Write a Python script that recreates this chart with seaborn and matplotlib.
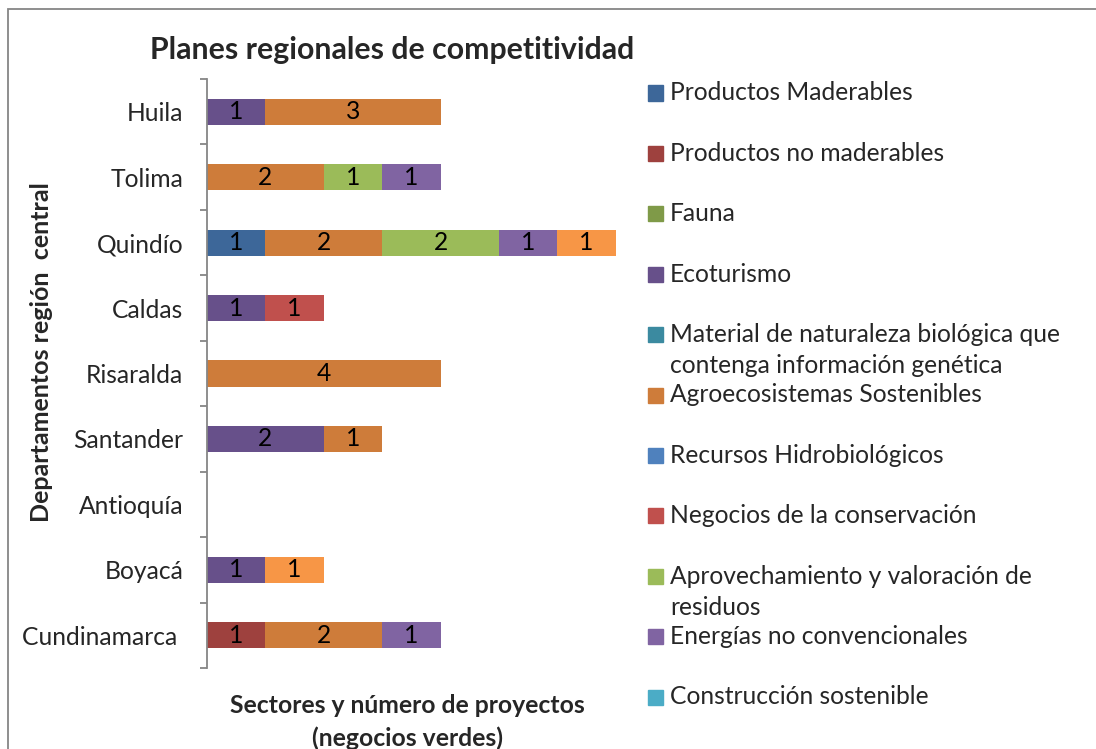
import matplotlib
matplotlib.use("Agg")
import matplotlib.pyplot as plt
from matplotlib.patches import Rectangle
import seaborn as sns
import numpy as np

sns.set_theme(style="white")
plt.rcParams['font.family'] = ['Lato', 'DejaVu Sans']

# Datos
departamentos = ["Huila", "Tolima", "Quindío", "Caldas", "Risaralda",
                 "Santander", "Antioquía", "Boyacá", "Cundinamarca "]
sectores = ["Productos Maderables", "Productos no maderables", "Fauna", "Ecoturismo",
            "Material de naturaleza biológica que\ncontenga información genética",
            "Agroecosistemas Sostenibles", "Recursos Hidrobiológicos",
            "Negocios de la conservación",
            "Aprovechamiento y valoración de\nresiduos",
            "Energías no convencionales", "Construcción sostenible", "Otros"]
# valores por sector (orden de departamentos)
productos_maderables    = [0, 0, 1, 0, 0, 0, 0, 0, 0]
productos_no_maderables = [0, 0, 0, 0, 0, 0, 0, 0, 1]
fauna                   = [0, 0, 0, 0, 0, 0, 0, 0, 0]
ecoturismo              = [1, 0, 0, 1, 0, 2, 0, 1, 0]
material_genetico       = [0, 0, 0, 0, 0, 0, 0, 0, 0]
agroecosistemas         = [3, 2, 2, 0, 4, 1, 0, 0, 2]
recursos_hidrobiologicos = [0, 0, 0, 0, 0, 0, 0, 0, 0]
negocios_conservacion   = [0, 0, 0, 1, 0, 0, 0, 0, 0]
aprovechamiento_residuos = [0, 1, 2, 0, 0, 0, 0, 0, 0]
energias_no_conv        = [0, 1, 1, 0, 0, 0, 0, 0, 1]
construccion_sostenible = [0, 0, 0, 0, 0, 0, 0, 0, 0]
otros                   = [0, 0, 1, 0, 0, 0, 0, 1, 0]

valores = [productos_maderables, productos_no_maderables, fauna, ecoturismo,
           material_genetico, agroecosistemas, recursos_hidrobiologicos,
           negocios_conservacion, aprovechamiento_residuos, energias_no_conv,
           construccion_sostenible, otros]
colores = ["#3D6799", "#9E413E", "#7F9A48", "#67508A", "#3B8AA0", "#CE7C3A",
           "#4F81BD", "#C0504D", "#9BBB59", "#8064A2", "#4BACC6", "#F79646"]

W, H = 1096, 749
fs = 17.7
fig = plt.figure(figsize=(W / 100, H / 100), dpi=100)
ax = fig.add_axes([207 / W, 1 - 668 / H, 433 / W, (668 - 79) / H])

acum = np.zeros(len(departamentos))
for vals, col in zip(valores, colores):
    vals = np.array(vals, dtype=float)
    sns.barplot(x=vals, y=departamentos, left=acum, color=col, width=0.4,
                saturation=1, ax=ax, linewidth=0)
    acum += vals

for cont, vals in zip(ax.containers, valores):
    ax.bar_label(cont, labels=[str(v) if v else "" for v in vals],
                 label_type="center", fontsize=fs, color="black")

ax.set_xlim(0, 433 / 58.4)
ax.set_ylim(8.5, -0.5)
ax.set_xticks([])
ax.set_xlabel("")
ax.set_ylabel("")
for s in ["top", "right", "bottom"]:
    ax.spines[s].set_visible(False)
ax.spines["left"].set_color("#868686")
ax.spines["left"].set_linewidth(1.3)
ax.set_yticks(range(len(departamentos)))
ax.set_yticklabels(departamentos, fontsize=fs)
ax.set_yticks(np.arange(-0.5, len(departamentos)), minor=True)
ax.tick_params(axis="y", which="major", length=0, pad=17)
ax.tick_params(axis="y", which="minor", length=5, width=1.3, color="#868686", left=True)

fig.text(392 / W, 1 - 50 / H, "Planes regionales de competitividad",
         ha="center", va="center", fontsize=21.8, fontweight="bold")
fig.text(42 / W, 1 - 352 / H, "Departamentos región  central", rotation=90,
         ha="center", va="center", fontsize=18, fontweight="bold")
fig.text(407 / W, 1 - 722 / H, "Sectores y número de proyectos\n(negocios verdes)",
         ha="center", va="center", fontsize=17.8, fontweight="bold", linespacing=1.45)

# leyenda manual (la entrada 12 queda fuera del lienzo en el original)
for i, (lab, col) in enumerate(zip(sectores[:11], colores[:11])):
    yc = 93 + 60.4 * i
    fig.patches.append(Rectangle((648 / W, 1 - (yc + 7.5) / H), 15 / W, 15 / H,
                                 transform=fig.transFigure, color=col))
    for j, linea in enumerate(lab.split("\n")):
        fig.text(670 / W, 1 - (yc + 31 * j) / H, linea, ha="left", va="center",
                 fontsize=fs)

fig.patches.append(Rectangle((8 / W, -0.1), 1.2, 1.1 - 9 / H, transform=fig.transFigure,
                             fill=False, edgecolor="#868686", linewidth=1.3))

fig.savefig("out.png", dpi=100)
